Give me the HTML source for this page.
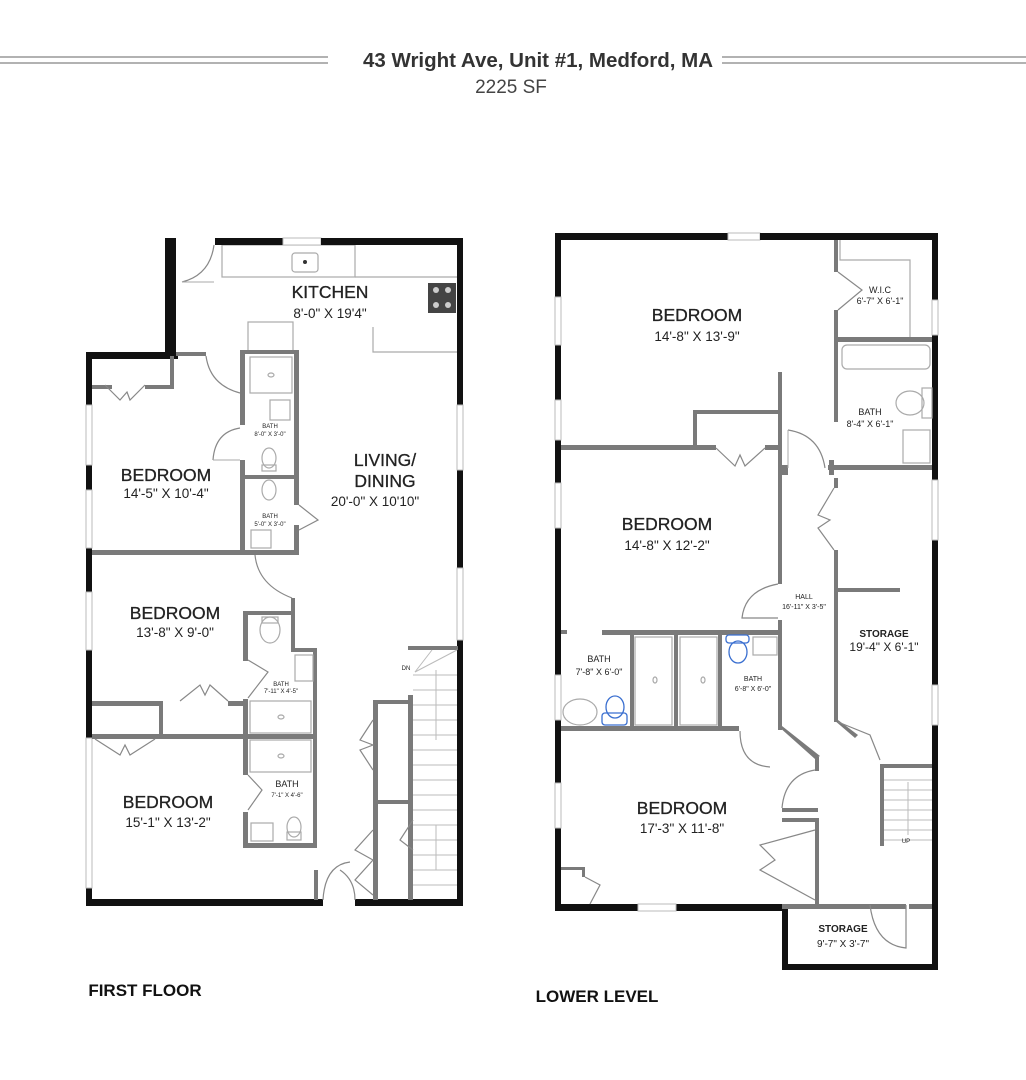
<!DOCTYPE html>
<html><head><meta charset="utf-8"><style>
html,body{margin:0;padding:0;background:#fff;}
svg{display:block;}
text{font-family:"Liberation Sans",sans-serif;fill:#222;text-anchor:middle;}
.b{fill:#111;}
.g{fill:#7a7a7a;}
.o{fill:none;stroke:#aaa;stroke-width:1.2;}
.d{fill:none;stroke:#888;stroke-width:1.2;}
.w{fill:#fff;stroke:#bbb;stroke-width:1;}
.L{font-size:17.5px;stroke:#222;stroke-width:0.3;}
.D{font-size:13.5px;}
.s{font-size:6px;}
.m{font-size:9px;}
.sb{font-size:10px;font-weight:bold;}
</style></head><body>
<svg width="1026" height="1080" viewBox="0 0 1026 1080" xmlns="http://www.w3.org/2000/svg">
<!-- header -->
<line x1="0" y1="57" x2="328" y2="57" stroke="#666" stroke-width="1"/>
<line x1="0" y1="63" x2="328" y2="63" stroke="#666" stroke-width="1"/>
<line x1="722" y1="57" x2="1026" y2="57" stroke="#666" stroke-width="1"/>
<line x1="722" y1="63" x2="1026" y2="63" stroke="#666" stroke-width="1"/>
<text x="538" y="67" style="font-size:20.5px;font-weight:bold;fill:#333">43 Wright Ave, Unit #1, Medford, MA</text>
<text x="511" y="93" style="font-size:19px;fill:#444">2225 SF</text>

<!-- ========== FIRST FLOOR ========== -->
<rect x="222" y="245" width="133" height="32" class="o"/>
<rect x="292" y="253" width="26" height="19" rx="3" class="o" stroke="#666"/>
<circle cx="305" cy="262" r="2" fill="#333"/>
<rect x="428" y="283" width="28" height="30" fill="#444"/>
<circle cx="436" cy="290" r="3" fill="#ccc"/><circle cx="448" cy="290" r="3" fill="#ccc"/>
<circle cx="436" cy="305" r="3" fill="#ccc"/><circle cx="448" cy="305" r="3" fill="#ccc"/>
<polyline points="355,277 458,277" class="o"/>
<polyline points="373,327 373,352 458,352" class="o"/>
<rect x="248" y="322" width="45" height="30" class="o"/>
<path d="M182,282 Q210,275 214,245" class="d"/><line x1="182" y1="282" x2="214" y2="282" stroke="#aaa"/>
<rect x="165" y="238" width="11" height="120" class="b"/>
<rect x="215" y="238" width="68" height="7" class="b"/>
<rect x="283" y="238" width="38" height="7" class="w"/>
<rect x="321" y="238" width="142" height="7" class="b"/>
<rect x="457" y="238" width="6" height="667" class="b"/>
<rect x="457" y="405" width="6" height="65" class="w"/>
<rect x="457" y="568" width="6" height="72" class="w"/>
<rect x="86" y="352" width="92" height="7" class="b"/>
<rect x="86" y="352" width="6" height="553" class="b"/>
<rect x="86" y="405" width="6" height="60" class="w"/>
<rect x="86" y="490" width="6" height="58" class="w"/>
<rect x="86" y="592" width="6" height="58" class="w"/>
<rect x="86" y="738" width="6" height="150" class="w"/>
<rect x="86" y="899" width="237" height="7" class="b"/>
<rect x="355" y="899" width="108" height="7" class="b"/>
<g class="g">
<rect x="176" y="352" width="30" height="4"/>
<rect x="92" y="385" width="20" height="4"/>
<rect x="145" y="385" width="28" height="4"/>
<rect x="170" y="356" width="4" height="33"/>
<rect x="240" y="350" width="5" height="75"/>
<rect x="240" y="460" width="5" height="95"/>
<rect x="294" y="350" width="5" height="155"/>
<rect x="294" y="525" width="5" height="30"/>
<rect x="240" y="350" width="59" height="4"/>
<rect x="245" y="475" width="49" height="4"/>
<rect x="92" y="550" width="203" height="5"/>
<rect x="243" y="611" width="5" height="50"/>
<rect x="243" y="611" width="50" height="4"/>
<rect x="291" y="598" width="4" height="53"/>
<rect x="291" y="648" width="26" height="4"/>
<rect x="313" y="648" width="4" height="200"/>
<rect x="92" y="701" width="70" height="5"/>
<rect x="228" y="701" width="18" height="5"/>
<rect x="159" y="701" width="4" height="35"/>
<rect x="92" y="734" width="225" height="5"/>
<rect x="243" y="699" width="5" height="76"/>
<rect x="243" y="812" width="5" height="36"/>
<rect x="243" y="843" width="74" height="5"/>
<rect x="314" y="870" width="4" height="30"/>
<rect x="373" y="700" width="5" height="200"/>
<rect x="373" y="700" width="37" height="4"/>
<rect x="373" y="800" width="37" height="4"/>
<rect x="408" y="695" width="5" height="205"/>
<rect x="408" y="646" width="50" height="4"/>
</g>
<rect x="250" y="357" width="42" height="36" class="o"/><ellipse cx="271" cy="375" rx="3" ry="2" class="o"/>
<rect x="270" y="400" width="20" height="20" class="o"/>
<ellipse cx="269" cy="458" rx="7" ry="10" class="o"/><rect x="262" y="465" width="14" height="6" class="o"/>
<ellipse cx="269" cy="490" rx="7" ry="10" class="o"/>
<rect x="251" y="530" width="20" height="18" class="o"/>
<ellipse cx="270" cy="630" rx="10" ry="13" class="o"/><rect x="262" y="617" width="16" height="6" class="o"/>
<rect x="295" y="655" width="18" height="26" class="o"/>
<rect x="250" y="701" width="61" height="32" class="o"/><ellipse cx="281" cy="717" rx="3" ry="2" class="o"/>
<rect x="250" y="740" width="61" height="32" class="o"/><ellipse cx="281" cy="756" rx="3" ry="2" class="o"/>
<rect x="251" y="823" width="22" height="18" class="o"/>
<ellipse cx="294" cy="827" rx="7" ry="10" class="o"/><rect x="287" y="832" width="14" height="8" class="o"/>
<path d="M206,356 Q210,385 240,393" class="d"/>
<path d="M213,460 Q215,432 240,428" class="d"/><line x1="213" y1="460" x2="240" y2="460" stroke="#aaa"/>
<path d="M299,505 L318,520 L299,530" class="d"/>
<path d="M255,555 Q258,585 292,598" class="d"/>
<path d="M248,660 L268,672 L248,698" class="d"/>
<path d="M248,775 L262,790 L248,810" class="d"/>
<path d="M105,385 L120,400 L127,392 L130,400 L145,385" class="d"/>
<path d="M180,701 L200,685 L205,695 L210,685 L228,701" class="d"/>
<path d="M95,739 L120,755 L125,745 L130,755 L155,739" class="d"/>
<path d="M323,900 Q325,865 350,862" class="d"/><path d="M355,900 Q355,880 340,870" class="d"/>
<path d="M373,720 L360,740 L373,745 L360,750 L373,770" class="d"/>
<path d="M373,830 L355,850 L373,860 L355,880 L373,895" class="d"/>
<path d="M413,820 L400,840 L413,850" class="d"/>
<g stroke="#bbb" stroke-width="1">
<line x1="413" y1="675" x2="457" y2="675"/><line x1="413" y1="690" x2="457" y2="690"/><line x1="413" y1="705" x2="457" y2="705"/><line x1="413" y1="720" x2="457" y2="720"/><line x1="413" y1="735" x2="457" y2="735"/><line x1="413" y1="750" x2="457" y2="750"/><line x1="413" y1="765" x2="457" y2="765"/><line x1="413" y1="780" x2="457" y2="780"/><line x1="413" y1="795" x2="457" y2="795"/><line x1="413" y1="810" x2="457" y2="810"/><line x1="413" y1="825" x2="457" y2="825"/><line x1="413" y1="840" x2="457" y2="840"/><line x1="413" y1="855" x2="457" y2="855"/><line x1="413" y1="870" x2="457" y2="870"/><line x1="413" y1="885" x2="457" y2="885"/>
<line x1="415" y1="672" x2="432" y2="650"/><line x1="415" y1="672" x2="457" y2="650"/>
<line x1="436" y1="670" x2="436" y2="740"/><line x1="436" y1="825" x2="436" y2="870"/>
</g>
<text x="406" y="670" class="s">DN</text>

<!-- ========== LOWER LEVEL ========== -->
<rect x="555" y="233" width="173" height="7" class="b"/>
<rect x="728" y="233" width="32" height="7" class="w"/>
<rect x="760" y="233" width="178" height="7" class="b"/>
<rect x="932" y="233" width="6" height="737" class="b"/>
<rect x="932" y="300" width="6" height="35" class="w"/>
<rect x="932" y="480" width="6" height="60" class="w"/>
<rect x="932" y="685" width="6" height="40" class="w"/>
<rect x="555" y="233" width="6" height="678" class="b"/>
<rect x="555" y="297" width="6" height="48" class="w"/>
<rect x="555" y="400" width="6" height="40" class="w"/>
<rect x="555" y="483" width="6" height="45" class="w"/>
<rect x="555" y="675" width="6" height="45" class="w"/>
<rect x="555" y="783" width="6" height="45" class="w"/>
<rect x="555" y="904" width="230" height="7" class="b"/>
<rect x="638" y="904" width="38" height="7" class="w"/>
<rect x="782" y="904" width="6" height="66" class="b"/>
<rect x="782" y="964" width="156" height="6" class="b"/>
<g class="g">
<rect x="834" y="240" width="4" height="32"/>
<rect x="834" y="310" width="4" height="112"/>
<rect x="834" y="337" width="98" height="5"/>
<rect x="828" y="465" width="104" height="5"/>
<rect x="829" y="460" width="5" height="15"/>
<rect x="778" y="372" width="4" height="212"/>
<rect x="778" y="465" width="10" height="10"/>
<rect x="778" y="620" width="4" height="110"/>
<rect x="693" y="410" width="87" height="4"/>
<rect x="693" y="410" width="4" height="38"/>
<rect x="561" y="445" width="155" height="5"/>
<rect x="765" y="445" width="15" height="5"/>
<rect x="834" y="478" width="4" height="10"/>
<rect x="834" y="550" width="4" height="172"/>
<rect x="838" y="588" width="62" height="4"/>
<rect x="561" y="630" width="6" height="4"/>
<rect x="602" y="630" width="178" height="5"/>
<rect x="561" y="726" width="178" height="5"/>
<rect x="630" y="632" width="4" height="96"/>
<rect x="674" y="632" width="4" height="96"/>
<rect x="718" y="632" width="4" height="96"/>
<rect x="815" y="757" width="4" height="14"/>
<rect x="782" y="808" width="36" height="4"/>
<rect x="782" y="818" width="36" height="4"/>
<rect x="815" y="818" width="4" height="88"/>
<rect x="782" y="904" width="124" height="5"/>
<rect x="909" y="904" width="23" height="5"/>
<rect x="880" y="764" width="52" height="4"/>
<rect x="880" y="764" width="4" height="82"/>
<rect x="561" y="867" width="24" height="3"/>
<rect x="582" y="867" width="3" height="10"/>
</g>
<polygon points="778,726 782,726 820,756 815,759" fill="#7a7a7a"/>
<polygon points="834,720 838,720 858,735 855,738" fill="#7a7a7a"/>
<polyline points="840,240 840,260 910,260 910,337" class="o"/>
<rect x="842" y="345" width="88" height="24" rx="5" class="o"/>
<ellipse cx="910" cy="403" rx="14" ry="12" class="o"/><rect x="922" y="388" width="10" height="30" class="o"/>
<rect x="903" y="430" width="27" height="33" class="o"/>
<rect x="635" y="637" width="37" height="88" class="o"/><ellipse cx="655" cy="680" rx="2" ry="3" class="o"/>
<rect x="680" y="637" width="37" height="88" class="o"/><ellipse cx="703" cy="680" rx="2" ry="3" class="o"/>
<ellipse cx="580" cy="712" rx="17" ry="13" class="o"/>
<ellipse cx="615" cy="707" rx="9" ry="11" fill="none" stroke="#3a6fd0" stroke-width="1.3"/>
<rect x="602" y="713" width="25" height="12" rx="3" fill="none" stroke="#3a6fd0" stroke-width="1.3"/>
<ellipse cx="738" cy="652" rx="9" ry="11" fill="none" stroke="#3a6fd0" stroke-width="1.3"/>
<rect x="726" y="635" width="23" height="8" rx="3" fill="none" stroke="#3a6fd0" stroke-width="1.3"/>
<rect x="753" y="637" width="24" height="18" class="o"/>
<path d="M838,272 L862,290 L838,310" class="d"/>
<path d="M788,430 Q820,435 825,468" class="d"/><line x1="788" y1="430" x2="788" y2="468" stroke="#aaa"/>
<path d="M716,448 L735,466 L740,455 L745,466 L765,448" class="d"/>
<path d="M834,488 L818,515 L830,520 L818,528 L834,550" class="d"/>
<path d="M778,584 Q745,590 742,618 L778,618" class="d"/>
<path d="M740,731 Q740,765 770,767" class="d"/>
<path d="M815,770 Q785,775 782,808" class="d"/>
<path d="M815,830 L760,845 L775,860 L760,870 L815,900" class="d"/>
<path d="M585,877 L600,885 L590,904" class="d"/>
<path d="M870,905 Q875,945 906,948 L906,905" class="d"/>
<path d="M838,722 L870,735 L880,760" class="d"/>
<g stroke="#bbb" stroke-width="1">
<line x1="884" y1="780" x2="932" y2="780"/><line x1="884" y1="790" x2="932" y2="790"/><line x1="884" y1="800" x2="932" y2="800"/><line x1="884" y1="810" x2="932" y2="810"/><line x1="884" y1="820" x2="932" y2="820"/><line x1="884" y1="830" x2="932" y2="830"/><line x1="884" y1="840" x2="932" y2="840"/>
<line x1="908" y1="782" x2="908" y2="835"/>
</g>
<text x="906" y="843" class="s">UP</text>

<text x="330" y="298" class="L">KITCHEN</text>
<text x="330" y="318" class="D">8'-0" X 19'4"</text>
<text x="385" y="466" class="L">LIVING/</text>
<text x="385" y="487" class="L">DINING</text>
<text x="375" y="506" class="D">20'-0" X 10'10"</text>
<text x="166" y="481" class="L">BEDROOM</text>
<text x="166" y="498" class="D">14'-5" X 10'-4"</text>
<text x="175" y="619" class="L">BEDROOM</text>
<text x="175" y="637" class="D">13'-8" X 9'-0"</text>
<text x="168" y="808" class="L">BEDROOM</text>
<text x="168" y="827" class="D">15'-1" X 13'-2"</text>
<text x="270" y="428" class="s">BATH</text><text x="270" y="436" class="s">8'-0" X 3'-0"</text>
<text x="270" y="518" class="s">BATH</text><text x="270" y="526" class="s">5'-0" X 3'-0"</text>
<text x="281" y="686" class="s">BATH</text><text x="281" y="693" class="s">7'-11" X 4'-5"</text>
<text x="287" y="787" class="m">BATH</text><text x="287" y="797" class="s">7'-1" X 4'-6"</text>

<text x="697" y="321" class="L">BEDROOM</text>
<text x="697" y="341" class="D">14'-8" X 13'-9"</text>
<text x="667" y="530" class="L">BEDROOM</text>
<text x="667" y="550" class="D">14'-8" X 12'-2"</text>
<text x="682" y="814" class="L">BEDROOM</text>
<text x="682" y="833" class="D">17'-3" X 11'-8"</text>
<text x="880" y="293" class="m">W.I.C</text><text x="880" y="304" class="m">6'-7" X 6'-1"</text>
<text x="870" y="415" class="m">BATH</text><text x="870" y="427" class="m">8'-4" X 6'-1"</text>
<text x="804" y="599" class="s" style="font-size:7px">HALL</text><text x="804" y="609" class="s" style="font-size:7px">16'-11" X 3'-5"</text>
<text x="884" y="637" class="sb">STORAGE</text><text x="884" y="651" class="D" style="font-size:12px">19'-4" X 6'-1"</text>
<text x="599" y="662" class="m">BATH</text><text x="599" y="675" class="m">7'-8" X 6'-0"</text>
<text x="753" y="681" class="s" style="font-size:7px">BATH</text><text x="753" y="691" class="s" style="font-size:7px">6'-8" X 6'-0"</text>
<text x="843" y="932" class="sb">STORAGE</text><text x="843" y="947" class="m" style="font-size:10px">9'-7" X 3'-7"</text>

<text x="145" y="996" style="font-size:17px;font-weight:bold;fill:#111">FIRST FLOOR</text>
<text x="597" y="1002" style="font-size:17px;font-weight:bold;fill:#111">LOWER LEVEL</text>
</svg>
</body></html>
